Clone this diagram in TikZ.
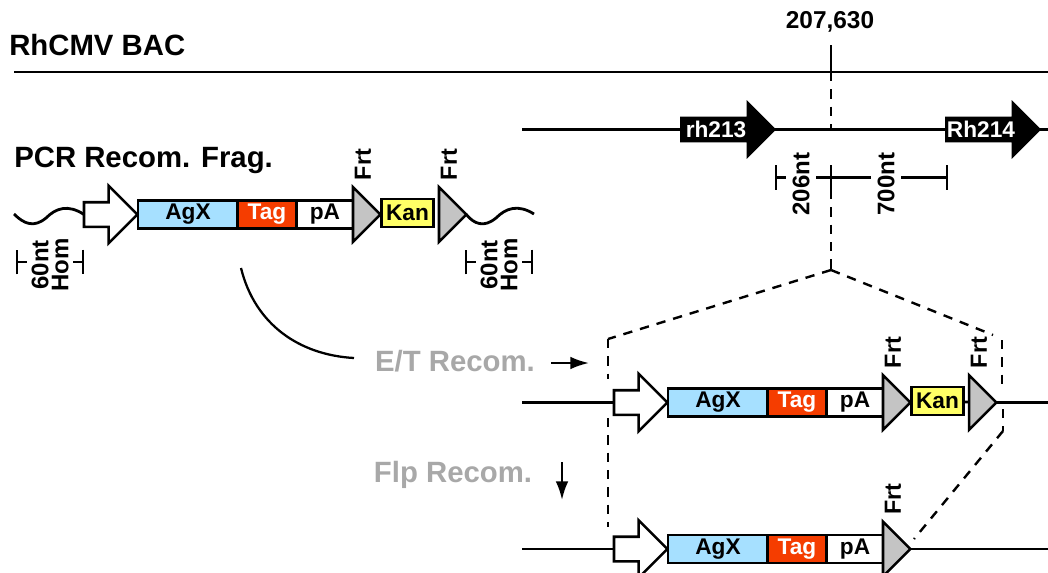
\documentclass[tikz,border=0pt]{standalone}
\usepackage{fontspec}
\setmainfont{Liberation Sans}
\usepackage{xcolor}
\usetikzlibrary{arrows.meta, positioning, shapes.geometric, shapes.arrows}
\definecolor{agxblue}{HTML}{A6E0FF}
\definecolor{tagred}{HTML}{F53D00}
\definecolor{kanyellow}{HTML}{FFFF66}
\definecolor{frtgray}{HTML}{C4C4C4}
\definecolor{stepgray}{HTML}{A8A8A8}

\begin{document}
\begin{tikzpicture}[
        x=0.75pt, y=-0.75pt,
        line/.style={line width=2.1pt},
        dashline/.style={line width=1.8pt, dash pattern=on 7pt off 6pt},
        box/.style={rectangle, draw, line width=2.1pt, inner sep=0pt, outer sep=0pt,
                    minimum height=21pt, font=\fontsize{17}{17}\selectfont\bfseries},
        promoter/.style={single arrow, draw, fill=white, line width=1.9pt, anchor=tail,
                    inner sep=8.25pt, outer sep=0pt, minimum height=40pt,
                    single arrow head extend=12.4pt},
        gene/.style={single arrow, fill=black, anchor=tail, inner sep=9.4pt, outer sep=0pt,
                    minimum height=72pt, single arrow head extend=12.4pt},
        genelabel/.style={text=white, font=\fontsize{17}{17}\selectfont\bfseries},
        frt/.style={isosceles triangle, isosceles triangle stretches, draw, fill=frtgray,
                    line width=1.9pt, anchor=lower side, inner sep=0pt, outer sep=0pt,
                    minimum width=41pt, minimum height=20.5pt},
        frtlabel/.style={rotate=90, font=\fontsize{17.5}{17.5}\selectfont\bfseries},
        sizelabel/.style={rotate=90, fill=white, inner xsep=0pt, inner ysep=1pt,
                    minimum height=22pt, font=\fontsize{18}{18}\selectfont\bfseries},
        homlabel/.style={rotate=90, fill=white, align=center, inner sep=0pt,
                    minimum height=34pt, font=\fontsize{18}{15}\selectfont\bfseries},
        dimbar/.style={line width=1.7pt, {Bar[width=18.5pt,line width=1.7pt]}-{Bar[width=18.5pt,line width=1.7pt]}},
        title/.style={font=\fontsize{22}{22}\selectfont\bfseries, anchor=base west, inner sep=0pt},
        steptext/.style={text=stepgray, font=\fontsize{22}{22}\selectfont\bfseries},
        cassette/.pic={
            \node [promoter] (-prom) at (-54,0) {};
            \node [box, fill=agxblue, minimum width=75pt] (-agx) at (50,0) {AgX};
            \node [box, fill=tagred, text=white, minimum width=44pt] (-tag) at (129,0) {Tag};
            \node [box, fill=white, minimum width=42pt] (-pa) at (187,0) {pA};
            \node [frt] (-frta) at (215,0) {};
            \node [frtlabel] (-frtatext) at (225,-50) {Frt};
        },
        kanfrt/.pic={
            \node [box, fill=kanyellow, minimum width=38.5pt] (-kan) at (269.5,-1.5) {Kan};
            \node [frt] (-frtb) at (301,0) {};
            \node [frtlabel] (-frtbtext) at (311,-50) {Frt};
        }
    ]
    \useasboundingbox (0,0) rectangle (1048,572);
    \coordinate (bacl) at (14,72);
    \coordinate (bacr) at (1048,72);
    \coordinate (sitetop) at (831,45);
    \coordinate (sitebac) at (831,72);
    \coordinate (genel) at (522,129.5);
    \coordinate (gener) at (1048,129.5);
    \coordinate (sitegene) at (831,129.5);
    \coordinate (dimtop) at (831,165);
    \coordinate (dimmid) at (831,177.5);
    \coordinate (dimbot) at (831,190);
    \coordinate (dimleft) at (775,177.5);
    \coordinate (dimright) at (948,177.5);
    \coordinate (apex) at (831,270);
    \coordinate (foldl) at (608,339);
    \coordinate (foldr) at (993,335);
    \coordinate (gapla) at (608,379);
    \coordinate (gaplb) at (608,418);
    \coordinate (footl) at (608,527);
    \coordinate (rightt) at (1002,340);
    \coordinate (rightb) at (1002,391);
    \coordinate (rightc) at (1003,409);
    \coordinate (rightd) at (1003,431);
    \coordinate (footr) at (914,539);
    \coordinate (wavel) at (14,214);
    \coordinate (waver) at (534,214);
    \coordinate (rowbl) at (522,402.5);
    \coordinate (rowbr) at (1048,402.5);
    \coordinate (rowcl) at (522,549);
    \coordinate (rowcr) at (1048,549);
    \coordinate (curves) at (241,268);
    \coordinate (curvee) at (354,358);
    \coordinate (etl) at (551,363);
    \coordinate (etr) at (589,363);
    \coordinate (flpt) at (562,462);
    \coordinate (flpb) at (562,500);
    \coordinate (homal) at (16,262);
    \coordinate (homar) at (84,262);
    \coordinate (hombl) at (465,262);
    \coordinate (hombr) at (533,262);

    \node [title] (bac) at (9,55) {RhCMV BAC};
    \node [title] (pcr) at (14,167) {PCR Recom. Frag.};
    \node [font=\fontsize{18.3}{18.3}\selectfont\bfseries] (pos) at (830,22) {207,630};

    \draw[line] (bacl) -- (bacr);
    \draw[line] (genel) -- (gener);
    \draw[line] (sitetop) -- (sitebac);
    \draw[dashline] (sitebac) -- (sitegene);

    \node [gene] (rha) at (680,129.5) {};
    \node [genelabel] (rhatext) at (716,129.5) {rh213};
    \node [gene] (rhb) at (945,129.5) {};
    \node [genelabel] (rhbtext) at (981,129.5) {Rh214};

    \draw[dimbar] (dimleft) -- (dimright);
    \draw[line width=1.7pt] (dimtop) -- (dimbot);
    \node [sizelabel] (sizea) at (801,184) {206nt};
    \node [sizelabel] (sizeb) at (886,184) {700nt};
    \draw[dashline] (dimbot) -- (apex);
    \draw[dashline] (apex) -- (foldl);
    \draw[dashline] (apex) -- (foldr);
    \draw[dashline] (foldl) -- (gapla);
    \draw[dashline] (gaplb) -- (footl);
    \draw[dashline] (rightt) -- (rightb);
    \draw[dashline] (rightc) -- (rightd);
    \draw[dashline] (rightd) -- (footr);

    \pic (rowa) at (138,214.5) {cassette};
    \pic (rowa) at (138,214.5) {kanfrt};
    \pic (rowb) at (668,402.5) {cassette};
    \pic (rowb) at (668,402.5) {kanfrt};
    \pic (rowc) at (668,549) {cassette};

    \draw[line] (wavel) .. controls (24,224) and (34,228) .. (46,218) .. controls (56,208) and (68,204) .. (rowa-prom.tail);
    \draw[line] (rowa-frtb.apex) .. controls (474,224) and (484,228) .. (496,218) .. controls (506,208) and (518,204) .. (waver);
    \draw[line] (rowa-frta.apex) -- (rowa-kan);
    \draw[line] (rowbl) -- (rowb-prom.tail);
    \draw[line] (rowb-frtb.apex) -- (rowbr);
    \draw[line] (rowb-kan) -- (rowb-frtb);
    \draw[line] (rowcl) -- (rowc-prom.tail);
    \draw[line] (rowc-frta.apex) -- (rowcr);

    \draw[dimbar] (homal) -- (homar);
    \node [homlabel] (homa) at (50,265) {60nt\\Hom};
    \draw[dimbar] (hombl) -- (hombr);
    \node [homlabel] (homb) at (499,265) {60nt\\Hom};

    \draw[line width=1.7pt] (curves) .. controls (255,325) and (300,355) .. (curvee);
    \node [steptext] (et) at (455,361) {E/T Recom.};
    \node [steptext] (flp) at (453,475) {Flp Recom.};
    \draw[line width=1.7pt, -{Latex[length=14pt,width=9.5pt]}] (etl) -- (etr);
    \draw[line width=1.7pt, -{Latex[length=14pt,width=9.5pt]}] (flpt) -- (flpb);
  \end{tikzpicture}
\end{document}
